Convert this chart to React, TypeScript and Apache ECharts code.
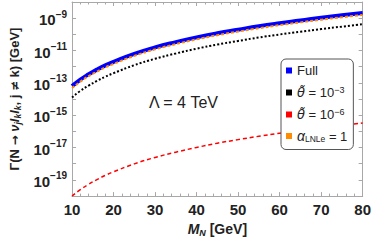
import React, { useEffect, useRef } from "react";
import * as echarts from "echarts";

const massGeV = [10, 12, 14, 16, 18, 20, 25, 30, 35, 40, 45, 50, 55, 60, 65, 70, 75, 80];
const fullRate = [6.3e-14, 1.6e-13, 3.4e-13, 6.6e-13, 1.2e-12, 2.0e-12, 6.2e-12, 1.55e-11, 3.3e-11, 6.5e-11, 1.17e-10, 1.95e-10, 3.2e-10, 4.9e-10, 7.2e-10, 1.07e-9, 1.5e-9, 2.1e-9];
const theta3Rate = [1.26e-14, 3.2e-14, 6.8e-14, 1.32e-13, 2.4e-13, 4.0e-13, 1.24e-12, 3.1e-12, 6.6e-12, 1.3e-11, 2.34e-11, 3.9e-11, 6.4e-11, 9.8e-11, 1.44e-10, 2.14e-10, 3.0e-10, 4.2e-10];
const theta6Rate = [1.0e-20, 2.5e-20, 5.4e-20, 1.05e-19, 1.9e-19, 3.2e-19, 9.8e-19, 2.45e-18, 5.2e-18, 1.02e-17, 1.86e-17, 3.1e-17, 5.0e-17, 7.8e-17, 1.15e-16, 1.7e-16, 2.4e-16, 3.3e-16];
const alphaRate = [4.8e-14, 1.2e-13, 2.6e-13, 5.0e-13, 9.1e-13, 1.5e-12, 4.7e-12, 1.18e-11, 2.5e-11, 4.9e-11, 8.9e-11, 1.48e-10, 2.4e-10, 3.7e-10, 5.5e-10, 8.1e-10, 1.14e-9, 1.6e-9];
const xTicks = [10, 20, 30, 40, 50, 60, 70, 80];
const yLabelExponents = [-19, -17, -15, -13, -11, -9];

const FONT = "'Liberation Sans', Arial, sans-serif";
const DJ = "'DejaVu Sans', sans-serif";
const FRAME = "#a8a8a8";

function pairs(ys: number[]) {
  return massGeV.map((m, i) => [m, ys[i]]);
}

export default function App() {
  const ref = useRef<HTMLDivElement>(null);
  useEffect(() => {
    if (!ref.current) return;
    const chart = echarts.init(ref.current, null, { renderer: "svg" });
    const xCommon = {
      type: "value" as const,
      min: xTicks[0],
      max: xTicks[xTicks.length - 1],
      interval: 10,
      axisLine: { show: true, lineStyle: { color: FRAME, width: 1 } },
      axisTick: { show: true, inside: true, length: 4, lineStyle: { color: FRAME } },
      minorTick: { show: true, splitNumber: 5, length: 2.5, lineStyle: { color: FRAME } },
      splitLine: { show: false },
    };
    const yCommon = {
      type: "log" as const,
      min: 1e-20,
      max: 1e-8,
      interval: 1,
      logBase: 10,
      axisLine: { show: true, lineStyle: { color: FRAME, width: 1 } },
      axisTick: { show: true, inside: true, length: 4, lineStyle: { color: FRAME } },
      splitLine: { show: false },
    };
    const legendNames: Record<string, string> = {
      Full: "{t|Full}",
      theta3: "{th|θ̃}{t| = 10}{sup|−3}",
      theta6: "{th|θ̃}{t| = 10}{sup|−6}",
      alpha: "{it|α}{sub|LNLe}{t| = 1}",
    };
    const yNameRich = {
      it: { fontFamily: FONT, fontSize: 13, fontWeight: "bold", fontStyle: "italic", color: "#222", lineHeight: 16, verticalAlign: "middle" },
      sub: { fontFamily: FONT, fontSize: 8.5, fontWeight: "bold", fontStyle: "italic", color: "#222", lineHeight: 16, verticalAlign: "bottom" },
      b: { fontFamily: FONT, fontSize: 13, fontWeight: "bold", color: "#222", lineHeight: 16, verticalAlign: "middle" },
      ar: { fontFamily: DJ, fontSize: 12, fontWeight: "bold", color: "#222", lineHeight: 16, verticalAlign: "middle" },
    };
    chart.setOption({
      animation: false,
      grid: { left: 55, right: 8, top: 2, bottom: 39, show: false },
      xAxis: [
        {
          ...xCommon,
          position: "bottom",
          name: "{it|M}{sub|N}{b| [GeV]}",
          nameLocation: "middle",
          nameGap: 21,
          nameTextStyle: {
            rich: {
              it: { fontFamily: FONT, fontSize: 14, fontWeight: "bold", fontStyle: "italic", color: "#222", lineHeight: 16, verticalAlign: "middle" },
              sub: { fontFamily: FONT, fontSize: 9, fontWeight: "bold", fontStyle: "italic", color: "#222", lineHeight: 16, verticalAlign: "bottom" },
              b: { fontFamily: FONT, fontSize: 14, fontWeight: "bold", color: "#222", lineHeight: 16, verticalAlign: "middle" },
            },
          },
          axisLabel: { show: true, margin: 6, fontFamily: FONT, fontSize: 15, fontWeight: "bold", color: "#222" },
        },
        { ...xCommon, position: "top", axisLabel: { show: false } },
      ],
      yAxis: [
        {
          ...yCommon,
          position: "left",
          name: "{b|Γ(N }{ar|→}{b| }{it|ν}{sub|j}{it|l}{sub|k}{it|l}{sub|k}{b|, j }{ar|≠}{b| k) [GeV]}",
          nameLocation: "middle",
          nameGap: 40,
          nameRotate: 90,
          nameTextStyle: {
            fontFamily: FONT, fontSize: 13, fontWeight: "bold", color: "#222",
            rich: yNameRich,
          },
          axisLabel: {
            show: true,
            margin: 5,
            formatter: (v: number) => {
              const e = Math.round(Math.log10(v));
              if (!yLabelExponents.includes(e)) return "";
              return "{b|10}{s|−" + String(-e) + "}";
            },
            rich: {
              b: { fontFamily: FONT, fontSize: 15, fontWeight: "bold", color: "#222", lineHeight: 18, verticalAlign: "bottom" },
              s: { fontFamily: FONT, fontSize: 10, fontWeight: "bold", color: "#222", lineHeight: 18, verticalAlign: "top" },
            },
          },
        },
        { ...yCommon, position: "right", axisLabel: { show: false } },
      ],
      legend: {
        show: true,
        orient: "vertical",
        left: 281,
        top: 59,
        width: 77,
        padding: [5, 6, 6, 5],
        itemGap: 8,
        itemWidth: 6,
        itemHeight: 6,
        icon: "rect",
        borderColor: "#555",
        borderWidth: 1,
        borderRadius: 5,
        backgroundColor: "#fff",
        data: [
          { name: "Full", itemStyle: { color: "#0000ff" } },
          { name: "theta3", itemStyle: { color: "#000000" } },
          { name: "theta6", itemStyle: { color: "#ff0000" } },
          { name: "alpha", itemStyle: { color: "#ff8c00" } },
        ],
        formatter: (name: string) => legendNames[name] || name,
        textStyle: {
          fontFamily: FONT,
          fontSize: 13,
          color: "#222",
          rich: {
            t: { fontFamily: FONT, fontSize: 13, color: "#222", lineHeight: 15, verticalAlign: "middle" },
            th: { fontFamily: DJ, fontSize: 13, fontStyle: "italic", color: "#222", lineHeight: 15, verticalAlign: "middle" },
            it: { fontFamily: FONT, fontSize: 14, fontStyle: "italic", color: "#222", lineHeight: 15, verticalAlign: "middle" },
            sup: { fontFamily: FONT, fontSize: 9, color: "#222", lineHeight: 15, verticalAlign: "top" },
            sub: { fontFamily: FONT, fontSize: 8.5, color: "#222", lineHeight: 15, verticalAlign: "bottom" },
          },
        },
      },
      graphic: [
        {
          type: "text",
          left: 149,
          top: 94,
          style: { text: "Λ = 4 TeV", fontFamily: FONT, fontSize: 16, fill: "#222" },
        },
      ],
      series: [
        {
          name: "Full", type: "line", data: pairs(fullRate), smooth: true, showSymbol: false,
          lineStyle: { color: "#0000ff", width: 4 }, itemStyle: { color: "#0000ff" }, z: 2,
        },
        {
          name: "theta3", type: "line", data: pairs(theta3Rate), smooth: true, showSymbol: false,
          lineStyle: { color: "#000000", width: 2, type: [2, 2] }, itemStyle: { color: "#000000" }, z: 3,
        },
        {
          name: "theta6", type: "line", data: pairs(theta6Rate), smooth: true, showSymbol: false,
          lineStyle: { color: "#ff0000", width: 1.5, type: [4, 3] }, itemStyle: { color: "#ff0000" }, z: 3,
        },
        {
          name: "alpha", type: "line", data: pairs(alphaRate), smooth: true, showSymbol: false,
          lineStyle: { color: "#ff8c00", width: 2, type: [3, 2] }, itemStyle: { color: "#ff8c00" }, z: 3,
        },
      ],
    });
    return () => chart.dispose();
  }, []);
  return <div ref={ref} style={{ width: 374, height: 242, position: "absolute", left: 0, top: 0, background: "#fff" }} />;
}
